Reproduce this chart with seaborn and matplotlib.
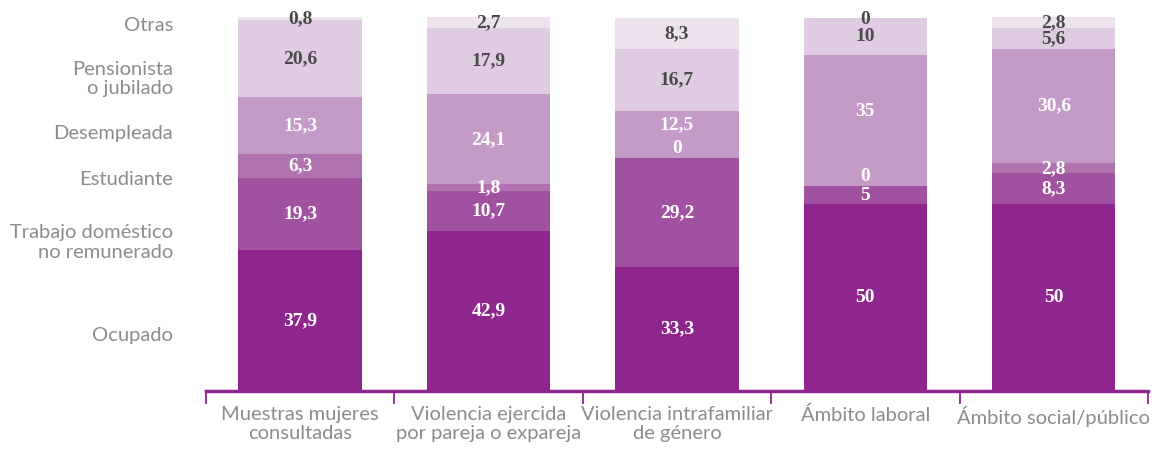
import numpy as np
import matplotlib
matplotlib.use("Agg")
import matplotlib.pyplot as plt
import seaborn as sns

# datos (de abajo hacia arriba en cada barra)
grupos = ["Muestras mujeres\nconsultadas", "Violencia ejercida\npor pareja o expareja",
          "Violencia intrafamiliar\nde género", "Ámbito laboral", "Ámbito social/público"]
situaciones = ["Ocupado", "Trabajo doméstico\nno remunerado", "Estudiante",
               "Desempleada", "Pensionista\no jubilado", "Otras"]
ocupado = [37.9, 42.9, 33.3, 50, 50]
trabajo_domestico = [19.3, 10.7, 29.2, 5, 8.3]
estudiante = [6.3, 1.8, 0, 0, 2.8]
desempleada = [15.3, 24.1, 12.5, 35, 30.6]
pensionista = [20.6, 17.9, 16.7, 10, 5.6]
otras = [0.8, 2.7, 8.3, 0, 2.8]

series = [ocupado, trabajo_domestico, estudiante, desempleada, pensionista, otras]
colores = ["#8E268E", "#A0519F", "#B173B0", "#C49BC6", "#DFCBE2", "#EEE2EF"]
color_texto = ["white", "white", "white", "white", "#4a4a4a", "#4a4a4a"]
# posición vertical de las etiquetas de la izquierda (en unidades de datos)
y_etiquetas = [15, 39.8, 56.7, 69, 83.6, 97.9]

morado = "#8E268E"
gris = "#8c8c8c"

sns.set_style("white")
plt.rcParams['font.family'] = ['Lato', 'DejaVu Sans']

fig = plt.figure(figsize=(11.54, 4.5), dpi=100)
ax = fig.add_axes([0.1785, 0.131, 0.8163, 0.831])

vals = np.array(series)
acum = np.cumsum(vals, axis=0)

# barras apiladas: se dibuja el total y se van tapando con los acumulados inferiores
for i in range(len(series) - 1, -1, -1):
    sns.barplot(x=grupos, y=acum[i], color=colores[i], width=0.655,
                saturation=1, linewidth=0, edgecolor="none", ax=ax, zorder=2)

# etiquetas de valores
for i, serie in enumerate(series):
    base = acum[i] - vals[i]
    for j, v in enumerate(serie):
        if v == 0:
            yy = min(base[j] + 2.5, 99.6)
        else:
            yy = base[j] + v / 2
            if i > 0 and series[i - 1][j] == 0:
                yy += 2.5
        txt = f"{v:g}".replace(".", ",")
        ax.text(j, yy, txt, ha="center", va="center", color=color_texto[i],
                fontsize=14, fontweight="bold", family="Liberation Serif", zorder=5)

# etiquetas a la izquierda
for lab, yy in zip(situaciones, y_etiquetas):
    ax.text(-0.675, yy, lab, ha="right", va="center", color=gris, fontsize=14.5,
            linespacing=1.15, transform=ax.transData, clip_on=False)

ax.set_xlim(-0.5, 4.5)
ax.set_ylim(0, 100.2)
ax.set_yticks([])
for s in ["top", "right", "left"]:
    ax.spines[s].set_visible(False)
ax.spines["bottom"].set_color(morado)
ax.spines["bottom"].set_linewidth(2.5)
ax.spines["bottom"].set_zorder(3)

ax.set_xticks(range(len(grupos)))
ax.set_xticklabels(grupos, color=gris, fontsize=14.5, linespacing=1.1)
ax.tick_params(axis="x", which="major", length=0, pad=11)
ax.set_xticks(np.arange(-0.5, len(grupos)), minor=True)
ax.tick_params(axis="x", which="minor", bottom=True, length=9, width=1.3,
               color=morado, direction="out")
ax.set_xlabel("")

fig.savefig("out.png", dpi=100)
